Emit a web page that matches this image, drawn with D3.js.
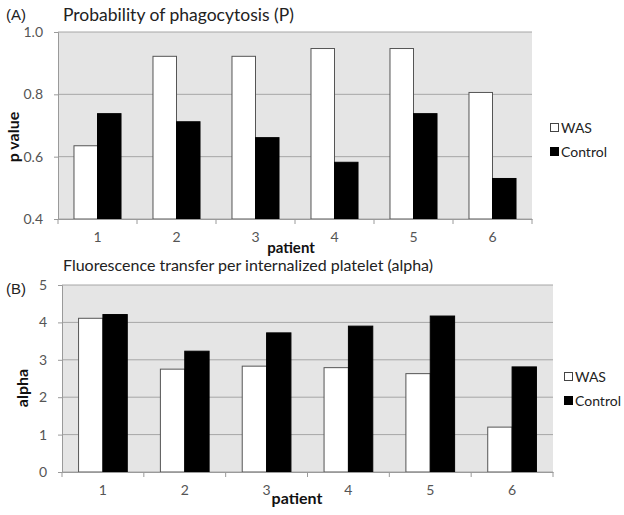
<!DOCTYPE html>
<html>
<head>
<meta charset="utf-8">
<script src="https://cdn.jsdelivr.net/npm/d3@7"></script>
<style>
  body { margin: 0; background: #fff; }
  text { font-family: Lato, "Open Sans", sans-serif; }
</style>
</head>
<body>
<div id="chart"></div>
<script>
// data
const patients = ["1", "2", "3", "4", "5", "6"];
const series = ["WAS", "Control"];
const wasP = [0.635, 0.922, 0.922, 0.947, 0.947, 0.806];
const controlP = [0.738, 0.712, 0.661, 0.582, 0.738, 0.530];
const pTicks = [0.4, 0.6, 0.8, 1.0];
const wasAlpha = [4.11, 2.75, 2.83, 2.79, 2.63, 1.20];
const controlAlpha = [4.21, 3.23, 3.72, 3.90, 4.17, 2.81];
const alphaTicks = [0, 1, 2, 3, 4, 5];

const width = 624, height = 515;

const svg = d3.select("#chart")
    .append("svg")
    .attr("width", width)
    .attr("height", height);

function drawPanel(opt) {
    const g = svg.append("g");
    const x = d3.scaleBand()
        .domain(patients)
        .range([opt.left, opt.right]);
    const xInner = d3.scaleBand()
        .domain(series)
        .range([0, x.bandwidth()])
        .paddingOuter(0.68);
    const y = d3.scaleLinear()
        .domain(opt.domain)
        .range([opt.bottom, opt.top]);

    // plot background
    g.append("rect")
        .attr("x", opt.left)
        .attr("y", opt.top)
        .attr("width", opt.right - opt.left)
        .attr("height", opt.bottom - opt.top)
        .attr("fill", "#e5e5e5");

    // gridlines
    g.append("g")
        .selectAll("line")
        .data(opt.ticks)
        .enter()
        .append("line")
        .attr("x1", opt.left)
        .attr("x2", opt.right)
        .attr("y1", d => y(d))
        .attr("y2", d => y(d))
        .attr("stroke", "#a6a6a6")
        .attr("stroke-width", 1);

    const rows = patients.map((p, i) => ({ patient: p, WAS: opt.was[i], Control: opt.control[i] }));

    g.append("g")
        .selectAll("g")
        .data(rows)
        .enter()
        .append("g")
        .attr("transform", d => `translate(${x(d.patient)},0)`)
        .selectAll("rect")
        .data(d => series.map(s => ({ key: s, value: d[s] })))
        .enter()
        .append("rect")
        .attr("x", d => xInner(d.key))
        .attr("y", d => y(d.value))
        .attr("width", xInner.bandwidth())
        .attr("height", d => opt.bottom - y(d.value))
        .attr("fill", d => d.key === "WAS" ? "#ffffff" : "#000000")
        .attr("stroke", d => d.key === "WAS" ? "#555" : "#000")
        .attr("stroke-width", 1);

    // y axis
    const yAxis = g.append("g")
        .attr("transform", `translate(${opt.left},0)`)
        .call(d3.axisLeft(y).tickValues(opt.ticks).tickFormat(opt.format).tickSize(4).tickPadding(11));
    yAxis.select(".domain").attr("stroke", "#9a9a9a");
    yAxis.selectAll(".tick line").attr("stroke", "#9a9a9a");
    yAxis.selectAll(".tick text")
        .attr("fill", "#555")
        .style("font-size", "14px");

    // x axis: ticks sit on category boundaries
    const xAxis = g.append("g")
        .attr("transform", `translate(0,${opt.bottom})`)
        .call(d3.axisBottom(x).tickSize(0).tickPadding(13));
    xAxis.select(".domain").attr("stroke", "#9a9a9a");
    xAxis.selectAll(".tick text")
        .attr("fill", "#555")
        .style("font-size", "14px");
    xAxis.append("g")
        .selectAll("line")
        .data(d3.range(patients.length + 1))
        .enter()
        .append("line")
        .attr("x1", i => opt.left + i * x.step())
        .attr("x2", i => opt.left + i * x.step())
        .attr("y1", 0)
        .attr("y2", 5)
        .attr("stroke", "#9a9a9a");

    // titles
    g.append("text")
        .attr("x", 6)
        .attr("y", opt.labelY)
        .attr("dy", "0.35em")
        .style("font-family", "'Liberation Sans', Arial, sans-serif")
        .style("font-size", "15px")
        .attr("fill", "#222")
        .text(opt.label);

    g.append("text")
        .attr("x", 63)
        .attr("y", opt.titleY)
        .attr("dy", "0.35em")
        .style("font-size", opt.titleSize)
        .attr("fill", "#222")
        .text(opt.title);

    g.append("text")
        .attr("x", opt.xLabelX)
        .attr("y", opt.xLabelY)
        .attr("dy", "0.35em")
        .attr("text-anchor", "middle")
        .style("font-size", opt.xLabelSize)
        .style("font-weight", "bold")
        .attr("fill", "#111")
        .text("patient");

    g.append("text")
        .attr("transform", `translate(${opt.yLabelX},${opt.yLabelY}) rotate(-90)`)
        .attr("dy", "0.35em")
        .attr("text-anchor", "middle")
        .style("font-size", "16px")
        .style("font-weight", "bold")
        .attr("fill", "#111")
        .text(opt.yLabel);

    // legend
    const legend = g.append("g")
        .selectAll("g")
        .data(series)
        .enter()
        .append("g")
        .attr("transform", (d, i) => `translate(${opt.legendX},${opt.legendY + i * 24})`);
    legend.append("rect")
        .attr("x", 0.5)
        .attr("y", -3.5)
        .attr("width", 8)
        .attr("height", 8)
        .attr("fill", d => d === "WAS" ? "#fff" : "#000")
        .attr("stroke", d => d === "WAS" ? "#444" : "#000");
    legend.append("text")
        .attr("x", 11)
        .attr("y", 1)
        .attr("dy", "0.35em")
        .style("font-size", "14px")
        .attr("fill", "#222")
        .text(d => d);
}

drawPanel({
    left: 58, right: 532, top: 32, bottom: 219,
    domain: [0.4, 1.0], ticks: pTicks, format: d3.format(".1f"),
    was: wasP, control: controlP,
    label: "(A)", labelY: 15,
    title: "Probability of phagocytosis (P)", titleY: 15, titleSize: "17.5px",
    xLabelX: 291, xLabelY: 248, xLabelSize: "15px",
    yLabel: "p value", yLabelX: 13, yLabelY: 137,
    legendX: 550, legendY: 127
});

drawPanel({
    left: 62, right: 553, top: 285, bottom: 472,
    domain: [0, 5], ticks: alphaTicks, format: d3.format("d"),
    was: wasAlpha, control: controlAlpha,
    label: "(B)", labelY: 289,
    title: "Fluorescence transfer per internalized platelet (alpha)", titleY: 265, titleSize: "16px",
    xLabelX: 297, xLabelY: 498, xLabelSize: "16px",
    yLabel: "alpha", yLabelX: 22, yLabelY: 388,
    legendX: 564, legendY: 376
});
</script>
</body>
</html>
